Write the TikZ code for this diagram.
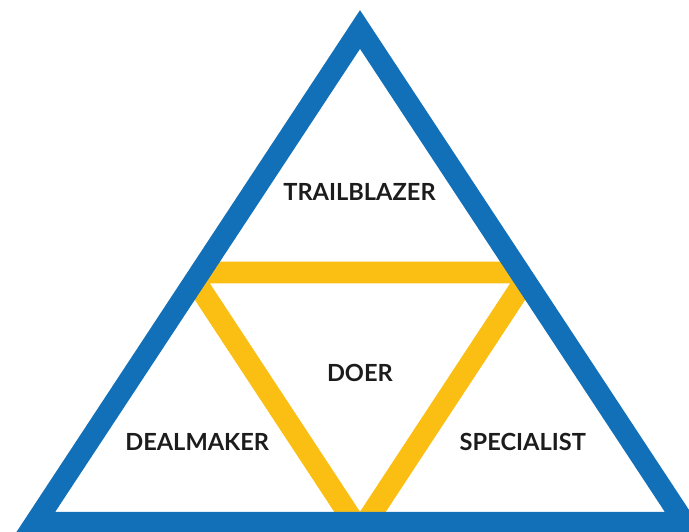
\documentclass[tikz,border=0pt]{standalone}
\usepackage{fontspec}
\setmainfont{Lato}
\definecolor{pyrblue}{RGB}{17,112,184}
\definecolor{pyryellow}{RGB}{251,191,20}
\definecolor{rolegray}{RGB}{28,28,28}

\begin{document}
\begin{tikzpicture}[x=1pt,y=-1pt,line join=miter,
    outer/.style={draw=pyrblue,line width=21.3pt},
    inner/.style={draw=pyryellow,line width=21.6pt},
    role/.style={font=\fontsize{23.6}{24}\selectfont\bfseries,text=rolegray,inner sep=0pt}]

    \useasboundingbox (0,0) rectangle (689,531);

    % outer triangle
    \coordinate (apex) at (360,29.5);
    \coordinate (left) at (35.4,522.6);
    \coordinate (right) at (684.6,522.6);

    % inner triangle
    \coordinate (tl) at (189.8,272.5);
    \coordinate (tr) at (530.2,272.5);
    \coordinate (bot) at (360,531.4);

    \begin{scope}
        \clip (apex) -- (left) -- (right) -- cycle;
        \draw[inner] (tl) -- (tr) -- (bot) -- cycle;
    \end{scope}
    \draw[outer] (apex) -- (left) -- (right) -- cycle;

    \node[role] (trail) at (359.5,191.7) {TRAILBLAZER};
    \node[role] (doer) at (359.9,372.5) {DOER};
    \node[role] (deal) at (197.2,441.7) {DEALMAKER};
    \node[role] (spec) at (522.8,441.7) {SPECIALIST};
\end{tikzpicture}
\end{document}
